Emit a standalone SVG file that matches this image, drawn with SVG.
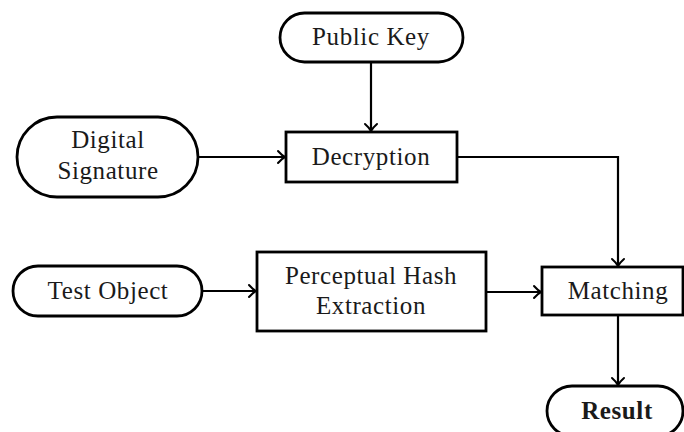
<svg xmlns="http://www.w3.org/2000/svg" width="684" height="432" viewBox="0 0 684 432">
<defs>
<style>
.node{fill:#fff;stroke:#000;stroke-width:2.8}
.lbl{font-family:"Liberation Serif","Times New Roman",serif;font-size:25px;letter-spacing:0.6px;fill:#1a1a1a;text-anchor:middle}
.b{font-weight:bold}
.edge{fill:none;stroke:#000;stroke-width:2.2}
</style>
<marker id="arr" markerUnits="userSpaceOnUse" markerWidth="14" markerHeight="16" viewBox="-9 -8 11 16" refX="0" refY="0" orient="auto">
<path d="M-7,-6 Q-3,-1.5 0,0 Q-3,1.5 -7,6" fill="none" stroke="#000" stroke-width="2" stroke-linecap="round"/>
</marker>
</defs>
<rect width="684" height="432" fill="#fff"/>
<g id="connectors">
<path class="edge" d="M371,62 L371,131" marker-end="url(#arr)"/>
<path class="edge" d="M198,157 L285,157" marker-end="url(#arr)"/>
<path class="edge" d="M457,157 L618,157 L618,266" marker-end="url(#arr)"/>
<path class="edge" d="M202,291 L256,291" marker-end="url(#arr)"/>
<path class="edge" d="M486,292 L541,292" marker-end="url(#arr)"/>
<path class="edge" d="M618,315 L618,385" marker-end="url(#arr)"/>
</g>
<g id="public-key">
<rect class="node" x="280" y="13" width="183" height="49" rx="24.5"/>
<text class="lbl" x="371" y="45">Public Key</text>
</g>
<g id="digital-signature">
<rect class="node" x="17" y="117" width="181" height="80" rx="40"/>
<text class="lbl" x="108" y="148">Digital</text>
<text class="lbl" x="108" y="179">Signature</text>
</g>
<g id="decryption">
<rect class="node" x="286" y="132" width="171" height="50"/>
<text class="lbl" x="371" y="165">Decryption</text>
</g>
<g id="test-object">
<rect class="node" x="13" y="266" width="189" height="50" rx="25"/>
<text class="lbl" x="108" y="299">Test Object</text>
</g>
<g id="perceptual-hash">
<rect class="node" x="257" y="252" width="229" height="79"/>
<text class="lbl" x="371" y="284">Perceptual Hash</text>
<text class="lbl" x="371" y="314">Extraction</text>
</g>
<g id="matching">
<rect class="node" x="542" y="267" width="141" height="48"/>
<text class="lbl" x="618" y="299">Matching</text>
</g>
<g id="result">
<rect class="node" x="547" y="386" width="136" height="50" rx="25"/>
<text class="lbl b" x="617" y="419">Result</text>
</g>
</svg>
